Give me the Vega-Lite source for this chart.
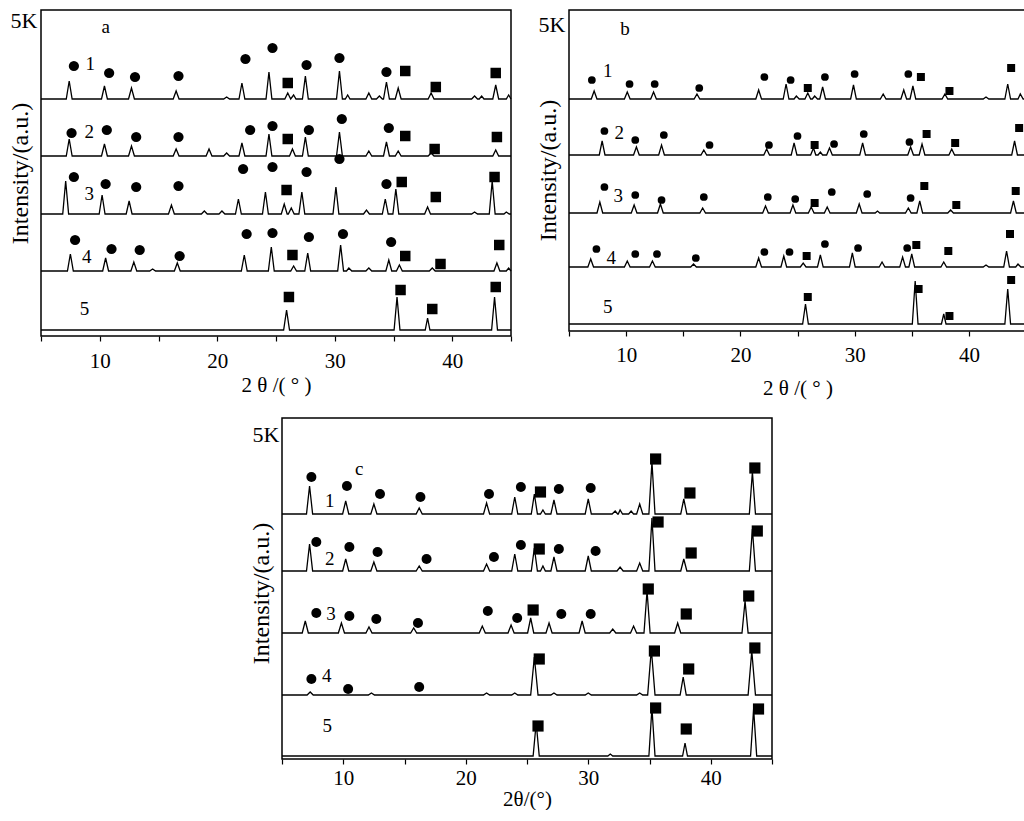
{
"$schema":"https://vega.github.io/schema/vega-lite/v6.json",
"padding":{"left":7,"top":8,"right":0,"bottom":0},
"config":{"view":{"stroke":"black","strokeWidth":1.5},"font":"Liberation Serif","text":{"font":"Liberation Serif"},"axis":{"labelFont":"Liberation Serif","titleFont":"Liberation Serif","labelColor":"black","titleColor":"black","titleFontWeight":"normal","grid":false,"domain":false,"tickColor":"black"}},
"datasets":{
"sa":[{"y":226},{"y":171},{"y":117},{"y":61}],
"sb":[{"y":229},{"y":173},{"y":115},{"y":61}],
"sc":[{"y":241},{"y":184},{"y":122},{"y":61}],
"la":[
{"s":1,"x":5,"y":237},{"s":1,"x":7.15,"y":237},{"s":1,"x":7.4,"y":255},{"s":1,"x":7.65,"y":237},{"s":1,"x":10.15,"y":237},{"s":1,"x":10.4,"y":250},{"s":1,"x":10.65,"y":237},{"s":1,"x":12.45,"y":237},{"s":1,"x":12.7,"y":248},{"s":1,"x":12.95,"y":237},{"s":1,"x":16.25,"y":237},{"s":1,"x":16.5,"y":245},{"s":1,"x":16.75,"y":237},{"s":1,"x":20.55,"y":237},{"s":1,"x":20.8,"y":239},{"s":1,"x":21.05,"y":237},{"s":1,"x":21.85,"y":237},{"s":1,"x":22.1,"y":253},{"s":1,"x":22.35,"y":237},{"s":1,"x":24.15,"y":237},{"s":1,"x":24.4,"y":264},{"s":1,"x":24.65,"y":237},{"s":1,"x":25.75,"y":237},{"s":1,"x":26.0,"y":243},{"s":1,"x":26.25,"y":237},{"s":1,"x":26.5,"y":241},{"s":1,"x":26.7,"y":237},{"s":1,"x":27.25,"y":237},{"s":1,"x":27.5,"y":260},{"s":1,"x":27.75,"y":237},{"s":1,"x":30.15,"y":237},{"s":1,"x":30.4,"y":265},{"s":1,"x":30.65,"y":237},{"s":1,"x":30.9,"y":237},{"s":1,"x":31.1,"y":241},{"s":1,"x":31.3,"y":237},{"s":1,"x":32.65,"y":237},{"s":1,"x":32.9,"y":243},{"s":1,"x":33.15,"y":237},{"s":1,"x":33.55,"y":237},{"s":1,"x":33.8,"y":240},{"s":1,"x":34.05,"y":237},{"s":1,"x":34.15,"y":237},{"s":1,"x":34.4,"y":254},{"s":1,"x":34.65,"y":237},{"s":1,"x":35.15,"y":237},{"s":1,"x":35.4,"y":248},{"s":1,"x":35.65,"y":237},{"s":1,"x":37.95,"y":237},{"s":1,"x":38.2,"y":243},{"s":1,"x":38.45,"y":237},{"s":1,"x":41.65,"y":237},{"s":1,"x":41.9,"y":240},{"s":1,"x":42.15,"y":237},{"s":1,"x":42.3,"y":237},{"s":1,"x":42.5,"y":240},{"s":1,"x":42.7,"y":237},{"s":1,"x":43.45,"y":237},{"s":1,"x":43.7,"y":251},{"s":1,"x":43.95,"y":237},{"s":1,"x":44.6,"y":237},{"s":1,"x":44.8,"y":241},{"s":1,"x":45,"y":237},
{"s":2,"x":5,"y":180},{"s":2,"x":7.15,"y":180},{"s":2,"x":7.4,"y":197},{"s":2,"x":7.65,"y":180},{"s":2,"x":10.15,"y":180},{"s":2,"x":10.4,"y":192},{"s":2,"x":10.65,"y":180},{"s":2,"x":12.45,"y":180},{"s":2,"x":12.7,"y":190},{"s":2,"x":12.95,"y":180},{"s":2,"x":16.25,"y":180},{"s":2,"x":16.5,"y":187},{"s":2,"x":16.75,"y":180},{"s":2,"x":19.05,"y":180},{"s":2,"x":19.3,"y":187},{"s":2,"x":19.55,"y":180},{"s":2,"x":20.55,"y":180},{"s":2,"x":20.8,"y":183},{"s":2,"x":21.05,"y":180},{"s":2,"x":21.85,"y":180},{"s":2,"x":22.1,"y":193},{"s":2,"x":22.35,"y":180},{"s":2,"x":24.15,"y":180},{"s":2,"x":24.4,"y":202},{"s":2,"x":24.65,"y":180},{"s":2,"x":26.15,"y":180},{"s":2,"x":26.4,"y":187},{"s":2,"x":26.65,"y":180},{"s":2,"x":27.25,"y":180},{"s":2,"x":27.5,"y":199},{"s":2,"x":27.75,"y":180},{"s":2,"x":30.15,"y":180},{"s":2,"x":30.4,"y":204},{"s":2,"x":30.65,"y":180},{"s":2,"x":32.65,"y":180},{"s":2,"x":32.9,"y":185},{"s":2,"x":33.15,"y":180},{"s":2,"x":34.15,"y":180},{"s":2,"x":34.4,"y":194},{"s":2,"x":34.65,"y":180},{"s":2,"x":35.15,"y":180},{"s":2,"x":35.4,"y":185},{"s":2,"x":35.65,"y":180},{"s":2,"x":37.95,"y":180},{"s":2,"x":38.2,"y":183},{"s":2,"x":38.45,"y":180},{"s":2,"x":43.45,"y":180},{"s":2,"x":43.7,"y":186},{"s":2,"x":43.95,"y":180},{"s":2,"x":45,"y":180},
{"s":3,"x":5,"y":122},{"s":3,"x":6.85,"y":122},{"s":3,"x":7.1,"y":155},{"s":3,"x":7.35,"y":122},{"s":3,"x":9.95,"y":122},{"s":3,"x":10.2,"y":141},{"s":3,"x":10.45,"y":122},{"s":3,"x":12.25,"y":122},{"s":3,"x":12.5,"y":135},{"s":3,"x":12.75,"y":122},{"s":3,"x":15.85,"y":122},{"s":3,"x":16.1,"y":131},{"s":3,"x":16.35,"y":122},{"s":3,"x":18.65,"y":122},{"s":3,"x":18.9,"y":125},{"s":3,"x":19.15,"y":122},{"s":3,"x":20.15,"y":122},{"s":3,"x":20.4,"y":125},{"s":3,"x":20.65,"y":122},{"s":3,"x":21.55,"y":122},{"s":3,"x":21.8,"y":137},{"s":3,"x":22.05,"y":122},{"s":3,"x":23.85,"y":122},{"s":3,"x":24.1,"y":144},{"s":3,"x":24.35,"y":122},{"s":3,"x":25.45,"y":122},{"s":3,"x":25.7,"y":132},{"s":3,"x":25.95,"y":122},{"s":3,"x":26.05,"y":122},{"s":3,"x":26.3,"y":128},{"s":3,"x":26.55,"y":122},{"s":3,"x":26.95,"y":122},{"s":3,"x":27.2,"y":144},{"s":3,"x":27.45,"y":122},{"s":3,"x":29.85,"y":122},{"s":3,"x":30.1,"y":149},{"s":3,"x":30.35,"y":122},{"s":3,"x":32.45,"y":122},{"s":3,"x":32.7,"y":126},{"s":3,"x":32.95,"y":122},{"s":3,"x":34.05,"y":122},{"s":3,"x":34.3,"y":137},{"s":3,"x":34.55,"y":122},{"s":3,"x":34.95,"y":122},{"s":3,"x":35.2,"y":147},{"s":3,"x":35.45,"y":122},{"s":3,"x":37.65,"y":122},{"s":3,"x":37.9,"y":129},{"s":3,"x":38.15,"y":122},{"s":3,"x":41.65,"y":122},{"s":3,"x":41.9,"y":124},{"s":3,"x":42.15,"y":122},{"s":3,"x":43.15,"y":122},{"s":3,"x":43.4,"y":155},{"s":3,"x":43.65,"y":122},{"s":3,"x":44.4,"y":122},{"s":3,"x":44.6,"y":124},{"s":3,"x":44.85,"y":122},{"s":3,"x":45,"y":122},
{"s":4,"x":5,"y":65},{"s":4,"x":7.25,"y":65},{"s":4,"x":7.5,"y":82},{"s":4,"x":7.75,"y":65},{"s":4,"x":10.25,"y":65},{"s":4,"x":10.5,"y":78},{"s":4,"x":10.75,"y":65},{"s":4,"x":12.65,"y":65},{"s":4,"x":12.9,"y":74},{"s":4,"x":13.15,"y":65},{"s":4,"x":14.25,"y":65},{"s":4,"x":14.5,"y":67},{"s":4,"x":14.75,"y":65},{"s":4,"x":16.35,"y":65},{"s":4,"x":16.6,"y":73},{"s":4,"x":16.85,"y":65},{"s":4,"x":22.05,"y":65},{"s":4,"x":22.3,"y":81},{"s":4,"x":22.55,"y":65},{"s":4,"x":24.35,"y":65},{"s":4,"x":24.6,"y":89},{"s":4,"x":24.85,"y":65},{"s":4,"x":26.25,"y":65},{"s":4,"x":26.5,"y":70},{"s":4,"x":26.75,"y":65},{"s":4,"x":27.45,"y":65},{"s":4,"x":27.7,"y":83},{"s":4,"x":27.95,"y":65},{"s":4,"x":30.25,"y":65},{"s":4,"x":30.5,"y":91},{"s":4,"x":30.75,"y":65},{"s":4,"x":31.0,"y":65},{"s":4,"x":31.2,"y":68},{"s":4,"x":31.45,"y":65},{"s":4,"x":32.65,"y":65},{"s":4,"x":32.9,"y":68},{"s":4,"x":33.15,"y":65},{"s":4,"x":34.35,"y":65},{"s":4,"x":34.6,"y":76},{"s":4,"x":34.85,"y":65},{"s":4,"x":35.25,"y":65},{"s":4,"x":35.5,"y":71},{"s":4,"x":35.75,"y":65},{"s":4,"x":38.05,"y":65},{"s":4,"x":38.3,"y":68},{"s":4,"x":38.55,"y":65},{"s":4,"x":43.55,"y":65},{"s":4,"x":43.8,"y":73},{"s":4,"x":44.05,"y":65},{"s":4,"x":44.6,"y":65},{"s":4,"x":44.8,"y":68},{"s":4,"x":45,"y":65},
{"s":5,"x":5,"y":6},{"s":5,"x":25.65,"y":6},{"s":5,"x":25.9,"y":26},{"s":5,"x":26.15,"y":6},{"s":5,"x":35.05,"y":6},{"s":5,"x":35.3,"y":39},{"s":5,"x":35.55,"y":6},{"s":5,"x":37.7,"y":6},{"s":5,"x":37.9,"y":18},{"s":5,"x":38.1,"y":6},{"s":5,"x":43.35,"y":6},{"s":5,"x":43.6,"y":39},{"s":5,"x":43.85,"y":6},{"s":5,"x":45,"y":6}
],
"ma":[
{"m":"c","x":7.8,"y":270},{"m":"c","x":10.8,"y":263},{"m":"c","x":13.0,"y":259},{"m":"c","x":16.7,"y":260},{"m":"c","x":22.4,"y":277},{"m":"c","x":24.7,"y":288},{"m":"c","x":27.6,"y":271},{"m":"c","x":30.4,"y":278},{"m":"c","x":34.4,"y":264},{"m":"s","x":26.0,"y":253},{"m":"s","x":36.0,"y":265},{"m":"s","x":38.6,"y":249},{"m":"s","x":43.7,"y":263},
{"m":"c","x":7.6,"y":203},{"m":"c","x":10.6,"y":206},{"m":"c","x":13.1,"y":199},{"m":"c","x":16.7,"y":199},{"m":"c","x":22.8,"y":206},{"m":"c","x":24.7,"y":210},{"m":"c","x":27.8,"y":206},{"m":"c","x":30.6,"y":217},{"m":"c","x":34.6,"y":208},{"m":"s","x":26.0,"y":197},{"m":"s","x":36.0,"y":200},{"m":"s","x":38.5,"y":187},{"m":"s","x":43.8,"y":199},
{"m":"c","x":7.8,"y":159},{"m":"c","x":10.5,"y":152},{"m":"c","x":13.1,"y":149},{"m":"c","x":16.7,"y":150},{"m":"c","x":22.2,"y":167},{"m":"c","x":24.7,"y":169},{"m":"c","x":27.6,"y":164},{"m":"c","x":30.4,"y":177},{"m":"c","x":34.4,"y":152},{"m":"s","x":25.9,"y":146},{"m":"s","x":35.7,"y":154},{"m":"s","x":38.6,"y":139},{"m":"s","x":43.6,"y":159},
{"m":"c","x":7.9,"y":96},{"m":"c","x":11.0,"y":87},{"m":"c","x":13.4,"y":86},{"m":"c","x":16.8,"y":80},{"m":"c","x":22.5,"y":102},{"m":"c","x":24.7,"y":103},{"m":"c","x":27.8,"y":99},{"m":"c","x":30.7,"y":102},{"m":"c","x":34.8,"y":94},{"m":"s","x":26.4,"y":81},{"m":"s","x":36.0,"y":80},{"m":"s","x":39.0,"y":72},{"m":"s","x":44.0,"y":91},
{"m":"s","x":26.1,"y":39},{"m":"s","x":35.6,"y":46},{"m":"s","x":38.3,"y":27},{"m":"s","x":43.7,"y":49}
],
"ta":[{"t":"1","x":9.2,"y":272},{"t":"2","x":9.1,"y":204},{"t":"3","x":9.1,"y":142},{"t":"4","x":8.9,"y":79},{"t":"5","x":8.7,"y":27},{"t":"a","x":10.5,"y":309}],
"lb":[
{"s":1,"x":5,"y":232},{"s":1,"x":6.95,"y":232},{"s":1,"x":7.2,"y":240},{"s":1,"x":7.45,"y":232},{"s":1,"x":9.85,"y":232},{"s":1,"x":10.1,"y":239},{"s":1,"x":10.35,"y":232},{"s":1,"x":12.15,"y":232},{"s":1,"x":12.4,"y":239},{"s":1,"x":12.65,"y":232},{"s":1,"x":15.95,"y":232},{"s":1,"x":16.2,"y":237},{"s":1,"x":16.45,"y":232},{"s":1,"x":21.35,"y":232},{"s":1,"x":21.6,"y":241},{"s":1,"x":21.85,"y":232},{"s":1,"x":23.75,"y":232},{"s":1,"x":24.0,"y":247},{"s":1,"x":24.25,"y":232},{"s":1,"x":24.7,"y":232},{"s":1,"x":24.9,"y":235},{"s":1,"x":25.15,"y":232},{"s":1,"x":25.65,"y":232},{"s":1,"x":25.9,"y":238},{"s":1,"x":26.15,"y":232},{"s":1,"x":26.3,"y":232},{"s":1,"x":26.5,"y":235},{"s":1,"x":26.75,"y":232},{"s":1,"x":26.95,"y":232},{"s":1,"x":27.2,"y":244},{"s":1,"x":27.45,"y":232},{"s":1,"x":29.65,"y":232},{"s":1,"x":29.9,"y":246},{"s":1,"x":30.15,"y":232},{"s":1,"x":32.25,"y":232},{"s":1,"x":32.5,"y":237},{"s":1,"x":32.75,"y":232},{"s":1,"x":34.05,"y":232},{"s":1,"x":34.3,"y":241},{"s":1,"x":34.55,"y":232},{"s":1,"x":34.85,"y":232},{"s":1,"x":35.1,"y":245},{"s":1,"x":35.35,"y":232},{"s":1,"x":37.65,"y":232},{"s":1,"x":37.9,"y":237},{"s":1,"x":38.15,"y":232},{"s":1,"x":41.25,"y":232},{"s":1,"x":41.5,"y":234},{"s":1,"x":41.75,"y":232},{"s":1,"x":43.15,"y":232},{"s":1,"x":43.4,"y":247},{"s":1,"x":43.65,"y":232},{"s":1,"x":44.3,"y":232},{"s":1,"x":44.5,"y":237},{"s":1,"x":44.75,"y":232},{"s":1,"x":45,"y":232},
{"s":2,"x":5,"y":176},{"s":2,"x":7.65,"y":176},{"s":2,"x":7.9,"y":190},{"s":2,"x":8.15,"y":176},{"s":2,"x":10.65,"y":176},{"s":2,"x":10.9,"y":184},{"s":2,"x":11.15,"y":176},{"s":2,"x":12.85,"y":176},{"s":2,"x":13.1,"y":186},{"s":2,"x":13.35,"y":176},{"s":2,"x":16.55,"y":176},{"s":2,"x":16.8,"y":181},{"s":2,"x":17.05,"y":176},{"s":2,"x":22.05,"y":176},{"s":2,"x":22.3,"y":182},{"s":2,"x":22.55,"y":176},{"s":2,"x":24.45,"y":176},{"s":2,"x":24.7,"y":188},{"s":2,"x":24.95,"y":176},{"s":2,"x":26.15,"y":176},{"s":2,"x":26.4,"y":183},{"s":2,"x":26.6,"y":176},{"s":2,"x":26.8,"y":176},{"s":2,"x":27.0,"y":179},{"s":2,"x":27.2,"y":176},{"s":2,"x":27.55,"y":176},{"s":2,"x":27.8,"y":183},{"s":2,"x":28.05,"y":176},{"s":2,"x":30.45,"y":176},{"s":2,"x":30.7,"y":188},{"s":2,"x":30.95,"y":176},{"s":2,"x":34.65,"y":176},{"s":2,"x":34.9,"y":184},{"s":2,"x":35.15,"y":176},{"s":2,"x":35.65,"y":176},{"s":2,"x":35.9,"y":187},{"s":2,"x":36.15,"y":176},{"s":2,"x":38.25,"y":176},{"s":2,"x":38.5,"y":182},{"s":2,"x":38.75,"y":176},{"s":2,"x":43.75,"y":176},{"s":2,"x":44.0,"y":190},{"s":2,"x":44.25,"y":176},{"s":2,"x":45,"y":176},
{"s":3,"x":5,"y":118},{"s":3,"x":7.45,"y":118},{"s":3,"x":7.7,"y":129},{"s":3,"x":7.95,"y":118},{"s":3,"x":10.45,"y":118},{"s":3,"x":10.7,"y":126},{"s":3,"x":10.95,"y":118},{"s":3,"x":12.75,"y":118},{"s":3,"x":13.0,"y":127},{"s":3,"x":13.25,"y":118},{"s":3,"x":16.45,"y":118},{"s":3,"x":16.7,"y":123},{"s":3,"x":16.95,"y":118},{"s":3,"x":21.95,"y":118},{"s":3,"x":22.2,"y":125},{"s":3,"x":22.45,"y":118},{"s":3,"x":24.35,"y":118},{"s":3,"x":24.6,"y":126},{"s":3,"x":24.85,"y":118},{"s":3,"x":25.95,"y":118},{"s":3,"x":26.2,"y":124},{"s":3,"x":26.45,"y":118},{"s":3,"x":27.35,"y":118},{"s":3,"x":27.6,"y":124},{"s":3,"x":27.85,"y":118},{"s":3,"x":30.15,"y":118},{"s":3,"x":30.4,"y":127},{"s":3,"x":30.65,"y":118},{"s":3,"x":31.8,"y":118},{"s":3,"x":32.0,"y":120},{"s":3,"x":32.2,"y":118},{"s":3,"x":34.45,"y":118},{"s":3,"x":34.7,"y":123},{"s":3,"x":34.95,"y":118},{"s":3,"x":35.45,"y":118},{"s":3,"x":35.7,"y":130},{"s":3,"x":35.95,"y":118},{"s":3,"x":38.15,"y":118},{"s":3,"x":38.4,"y":121},{"s":3,"x":38.65,"y":118},{"s":3,"x":43.65,"y":118},{"s":3,"x":43.9,"y":130},{"s":3,"x":44.15,"y":118},{"s":3,"x":45,"y":118},
{"s":4,"x":5,"y":64},{"s":4,"x":6.65,"y":64},{"s":4,"x":6.9,"y":72},{"s":4,"x":7.15,"y":64},{"s":4,"x":9.85,"y":64},{"s":4,"x":10.1,"y":70},{"s":4,"x":10.35,"y":64},{"s":4,"x":12.05,"y":64},{"s":4,"x":12.3,"y":70},{"s":4,"x":12.55,"y":64},{"s":4,"x":15.65,"y":64},{"s":4,"x":15.9,"y":67},{"s":4,"x":16.15,"y":64},{"s":4,"x":21.35,"y":64},{"s":4,"x":21.6,"y":73},{"s":4,"x":21.85,"y":64},{"s":4,"x":23.55,"y":64},{"s":4,"x":23.8,"y":75},{"s":4,"x":24.05,"y":64},{"s":4,"x":25.25,"y":64},{"s":4,"x":25.5,"y":68},{"s":4,"x":25.75,"y":64},{"s":4,"x":26.75,"y":64},{"s":4,"x":27.0,"y":76},{"s":4,"x":27.25,"y":64},{"s":4,"x":29.55,"y":64},{"s":4,"x":29.8,"y":78},{"s":4,"x":30.05,"y":64},{"s":4,"x":32.15,"y":64},{"s":4,"x":32.4,"y":69},{"s":4,"x":32.65,"y":64},{"s":4,"x":33.95,"y":64},{"s":4,"x":34.2,"y":74},{"s":4,"x":34.45,"y":64},{"s":4,"x":34.75,"y":64},{"s":4,"x":35.0,"y":77},{"s":4,"x":35.25,"y":64},{"s":4,"x":37.55,"y":64},{"s":4,"x":37.8,"y":69},{"s":4,"x":38.05,"y":64},{"s":4,"x":41.25,"y":64},{"s":4,"x":41.5,"y":66},{"s":4,"x":41.75,"y":64},{"s":4,"x":43.05,"y":64},{"s":4,"x":43.3,"y":80},{"s":4,"x":43.55,"y":64},{"s":4,"x":44.1,"y":64},{"s":4,"x":44.3,"y":67},{"s":4,"x":44.55,"y":64},{"s":4,"x":45,"y":64},
{"s":5,"x":5,"y":7},{"s":5,"x":25.45,"y":7},{"s":5,"x":25.7,"y":27},{"s":5,"x":25.95,"y":7},{"s":5,"x":35.05,"y":7},{"s":5,"x":35.3,"y":50},{"s":5,"x":35.55,"y":7},{"s":5,"x":37.6,"y":7},{"s":5,"x":37.8,"y":17},{"s":5,"x":38.0,"y":7},{"s":5,"x":43.15,"y":7},{"s":5,"x":43.4,"y":42},{"s":5,"x":43.65,"y":7},{"s":5,"x":45,"y":7}
],
"mb":[
{"m":"c","x":7.0,"y":251},{"m":"c","x":10.3,"y":247},{"m":"c","x":12.5,"y":247},{"m":"c","x":16.4,"y":243},{"m":"c","x":22.1,"y":254},{"m":"c","x":24.4,"y":251},{"m":"c","x":27.4,"y":254},{"m":"c","x":30.0,"y":257},{"m":"c","x":34.7,"y":257},{"m":"s","x":25.9,"y":243},{"m":"s","x":35.8,"y":254},{"m":"s","x":38.3,"y":240},{"m":"s","x":43.7,"y":263},
{"m":"c","x":8.1,"y":200},{"m":"c","x":10.8,"y":191},{"m":"c","x":13.3,"y":196},{"m":"c","x":17.3,"y":186},{"m":"c","x":22.5,"y":186},{"m":"c","x":25.0,"y":195},{"m":"c","x":28.2,"y":187},{"m":"c","x":30.8,"y":197},{"m":"c","x":34.8,"y":189},{"m":"s","x":26.5,"y":186},{"m":"s","x":36.3,"y":197},{"m":"s","x":38.8,"y":188},{"m":"s","x":44.4,"y":203},
{"m":"c","x":8.1,"y":144},{"m":"c","x":10.8,"y":136},{"m":"c","x":13.1,"y":131},{"m":"c","x":16.8,"y":134},{"m":"c","x":22.4,"y":134},{"m":"c","x":24.8,"y":132},{"m":"c","x":28.0,"y":139},{"m":"c","x":31.1,"y":137},{"m":"c","x":34.9,"y":133},{"m":"s","x":26.5,"y":128},{"m":"s","x":36.1,"y":145},{"m":"s","x":38.9,"y":126},{"m":"s","x":44.1,"y":140},
{"m":"c","x":7.4,"y":82},{"m":"c","x":10.8,"y":77},{"m":"c","x":12.7,"y":77},{"m":"c","x":16.1,"y":73},{"m":"c","x":22.1,"y":79},{"m":"c","x":24.3,"y":79},{"m":"c","x":27.4,"y":87},{"m":"c","x":30.3,"y":83},{"m":"c","x":34.6,"y":83},{"m":"s","x":25.8,"y":75},{"m":"s","x":35.4,"y":86},{"m":"s","x":38.2,"y":80},{"m":"s","x":43.6,"y":97},
{"m":"s","x":25.9,"y":34},{"m":"s","x":35.6,"y":42},{"m":"s","x":38.3,"y":15},{"m":"s","x":43.7,"y":51}
],
"tb":[{"t":"1","x":8.4,"y":260},{"t":"2","x":9.4,"y":198},{"t":"3","x":9.3,"y":135},{"t":"4","x":8.7,"y":73},{"t":"5","x":8.4,"y":24},{"t":"b","x":9.9,"y":302}],
"lc":[
{"s":1,"x":5,"y":245},{"s":1,"x":7.0,"y":245},{"s":1,"x":7.25,"y":273},{"s":1,"x":7.5,"y":245},{"s":1,"x":9.95,"y":245},{"s":1,"x":10.2,"y":258},{"s":1,"x":10.45,"y":245},{"s":1,"x":12.25,"y":245},{"s":1,"x":12.5,"y":255},{"s":1,"x":12.75,"y":245},{"s":1,"x":15.95,"y":245},{"s":1,"x":16.2,"y":251},{"s":1,"x":16.45,"y":245},{"s":1,"x":21.45,"y":245},{"s":1,"x":21.7,"y":256},{"s":1,"x":21.95,"y":245},{"s":1,"x":23.75,"y":245},{"s":1,"x":24.0,"y":262},{"s":1,"x":24.25,"y":245},{"s":1,"x":25.35,"y":245},{"s":1,"x":25.6,"y":265},{"s":1,"x":25.85,"y":245},{"s":1,"x":26.1,"y":245},{"s":1,"x":26.3,"y":249},{"s":1,"x":26.5,"y":245},{"s":1,"x":26.95,"y":245},{"s":1,"x":27.2,"y":259},{"s":1,"x":27.45,"y":245},{"s":1,"x":29.75,"y":245},{"s":1,"x":30.0,"y":260},{"s":1,"x":30.25,"y":245},{"s":1,"x":31.95,"y":245},{"s":1,"x":32.2,"y":248},{"s":1,"x":32.4,"y":245},{"s":1,"x":32.45,"y":245},{"s":1,"x":32.6,"y":249},{"s":1,"x":32.8,"y":245},{"s":1,"x":33.3,"y":245},{"s":1,"x":33.5,"y":248},{"s":1,"x":33.7,"y":245},{"s":1,"x":33.95,"y":245},{"s":1,"x":34.2,"y":255},{"s":1,"x":34.45,"y":245},{"s":1,"x":34.95,"y":245},{"s":1,"x":35.2,"y":297},{"s":1,"x":35.45,"y":245},{"s":1,"x":37.55,"y":245},{"s":1,"x":37.8,"y":260},{"s":1,"x":38.05,"y":245},{"s":1,"x":43.15,"y":245},{"s":1,"x":43.4,"y":287},{"s":1,"x":43.65,"y":245},{"s":1,"x":45,"y":245},
{"s":2,"x":5,"y":188},{"s":2,"x":7.0,"y":188},{"s":2,"x":7.25,"y":215},{"s":2,"x":7.5,"y":188},{"s":2,"x":9.95,"y":188},{"s":2,"x":10.2,"y":200},{"s":2,"x":10.45,"y":188},{"s":2,"x":12.25,"y":188},{"s":2,"x":12.5,"y":197},{"s":2,"x":12.75,"y":188},{"s":2,"x":15.95,"y":188},{"s":2,"x":16.2,"y":193},{"s":2,"x":16.45,"y":188},{"s":2,"x":21.45,"y":188},{"s":2,"x":21.7,"y":195},{"s":2,"x":21.95,"y":188},{"s":2,"x":23.75,"y":188},{"s":2,"x":24.0,"y":205},{"s":2,"x":24.25,"y":188},{"s":2,"x":25.35,"y":188},{"s":2,"x":25.6,"y":211},{"s":2,"x":25.85,"y":188},{"s":2,"x":26.1,"y":188},{"s":2,"x":26.3,"y":193},{"s":2,"x":26.5,"y":188},{"s":2,"x":26.95,"y":188},{"s":2,"x":27.2,"y":202},{"s":2,"x":27.45,"y":188},{"s":2,"x":29.75,"y":188},{"s":2,"x":30.0,"y":203},{"s":2,"x":30.25,"y":188},{"s":2,"x":32.35,"y":188},{"s":2,"x":32.6,"y":192},{"s":2,"x":32.85,"y":188},{"s":2,"x":33.95,"y":188},{"s":2,"x":34.2,"y":196},{"s":2,"x":34.45,"y":188},{"s":2,"x":34.95,"y":188},{"s":2,"x":35.2,"y":241},{"s":2,"x":35.45,"y":188},{"s":2,"x":37.55,"y":188},{"s":2,"x":37.8,"y":200},{"s":2,"x":38.05,"y":188},{"s":2,"x":43.15,"y":188},{"s":2,"x":43.4,"y":230},{"s":2,"x":43.65,"y":188},{"s":2,"x":45,"y":188},
{"s":3,"x":5,"y":126},{"s":3,"x":6.65,"y":126},{"s":3,"x":6.9,"y":138},{"s":3,"x":7.15,"y":126},{"s":3,"x":9.6,"y":126},{"s":3,"x":9.85,"y":136},{"s":3,"x":10.1,"y":126},{"s":3,"x":11.85,"y":126},{"s":3,"x":12.1,"y":132},{"s":3,"x":12.35,"y":126},{"s":3,"x":15.5,"y":126},{"s":3,"x":15.75,"y":131},{"s":3,"x":16.0,"y":126},{"s":3,"x":21.1,"y":126},{"s":3,"x":21.35,"y":133},{"s":3,"x":21.6,"y":126},{"s":3,"x":23.45,"y":126},{"s":3,"x":23.7,"y":134},{"s":3,"x":23.95,"y":126},{"s":3,"x":25.05,"y":126},{"s":3,"x":25.3,"y":141},{"s":3,"x":25.55,"y":126},{"s":3,"x":26.55,"y":126},{"s":3,"x":26.8,"y":136},{"s":3,"x":27.05,"y":126},{"s":3,"x":29.25,"y":126},{"s":3,"x":29.5,"y":138},{"s":3,"x":29.75,"y":126},{"s":3,"x":31.75,"y":126},{"s":3,"x":32.0,"y":130},{"s":3,"x":32.25,"y":126},{"s":3,"x":33.45,"y":126},{"s":3,"x":33.7,"y":133},{"s":3,"x":33.95,"y":126},{"s":3,"x":34.55,"y":126},{"s":3,"x":34.8,"y":168},{"s":3,"x":35.05,"y":126},{"s":3,"x":37.05,"y":126},{"s":3,"x":37.3,"y":136},{"s":3,"x":37.55,"y":126},{"s":3,"x":42.55,"y":126},{"s":3,"x":42.8,"y":158},{"s":3,"x":43.05,"y":126},{"s":3,"x":45,"y":126},
{"s":4,"x":5,"y":64},{"s":4,"x":7.05,"y":64},{"s":4,"x":7.3,"y":67},{"s":4,"x":7.55,"y":64},{"s":4,"x":12.05,"y":64},{"s":4,"x":12.3,"y":66},{"s":4,"x":12.55,"y":64},{"s":4,"x":21.45,"y":64},{"s":4,"x":21.7,"y":66},{"s":4,"x":21.95,"y":64},{"s":4,"x":23.75,"y":64},{"s":4,"x":24.0,"y":66},{"s":4,"x":24.25,"y":64},{"s":4,"x":25.3,"y":64},{"s":4,"x":25.6,"y":102},{"s":4,"x":25.9,"y":64},{"s":4,"x":26.95,"y":64},{"s":4,"x":27.2,"y":66},{"s":4,"x":27.45,"y":64},{"s":4,"x":29.75,"y":64},{"s":4,"x":30.0,"y":66},{"s":4,"x":30.25,"y":64},{"s":4,"x":33.95,"y":64},{"s":4,"x":34.2,"y":66},{"s":4,"x":34.45,"y":64},{"s":4,"x":34.85,"y":64},{"s":4,"x":35.15,"y":110},{"s":4,"x":35.45,"y":64},{"s":4,"x":37.5,"y":64},{"s":4,"x":37.75,"y":82},{"s":4,"x":38.0,"y":64},{"s":4,"x":43.05,"y":64},{"s":4,"x":43.35,"y":108},{"s":4,"x":43.65,"y":64},{"s":4,"x":45,"y":64},
{"s":5,"x":5,"y":3},{"s":5,"x":25.5,"y":3},{"s":5,"x":25.75,"y":36},{"s":5,"x":26.0,"y":3},{"s":5,"x":31.6,"y":3},{"s":5,"x":31.8,"y":5},{"s":5,"x":32.0,"y":3},{"s":5,"x":34.95,"y":3},{"s":5,"x":35.2,"y":51},{"s":5,"x":35.45,"y":3},{"s":5,"x":37.7,"y":3},{"s":5,"x":37.9,"y":16},{"s":5,"x":38.1,"y":3},{"s":5,"x":43.25,"y":3},{"s":5,"x":43.5,"y":50},{"s":5,"x":43.75,"y":3},{"s":5,"x":45,"y":3}
],
"mc":[
{"m":"c","x":7.4,"y":282},{"m":"c","x":10.3,"y":273},{"m":"c","x":13.0,"y":265},{"m":"c","x":16.3,"y":262},{"m":"c","x":21.9,"y":265},{"m":"c","x":24.5,"y":272},{"m":"c","x":27.6,"y":270},{"m":"c","x":30.2,"y":271},{"m":"s","x":26.1,"y":267},{"m":"s","x":35.5,"y":300},{"m":"s","x":38.3,"y":266},{"m":"s","x":43.6,"y":291},
{"m":"c","x":7.8,"y":217},{"m":"c","x":10.5,"y":212},{"m":"c","x":12.8,"y":207},{"m":"c","x":16.8,"y":200},{"m":"c","x":22.3,"y":202},{"m":"c","x":24.5,"y":214},{"m":"c","x":27.6,"y":210},{"m":"c","x":30.6,"y":208},{"m":"s","x":26.0,"y":210},{"m":"s","x":35.7,"y":237},{"m":"s","x":38.4,"y":206},{"m":"s","x":43.8,"y":228},
{"m":"c","x":7.8,"y":146},{"m":"c","x":10.5,"y":143},{"m":"c","x":12.7,"y":140},{"m":"c","x":16.1,"y":136},{"m":"c","x":21.8,"y":148},{"m":"c","x":24.2,"y":141},{"m":"c","x":27.8,"y":145},{"m":"c","x":30.2,"y":145},{"m":"s","x":25.5,"y":149},{"m":"s","x":34.9,"y":170},{"m":"s","x":38.0,"y":145},{"m":"s","x":43.1,"y":163},
{"m":"c","x":7.4,"y":80},{"m":"c","x":10.4,"y":70},{"m":"c","x":16.2,"y":72},{"m":"s","x":26.0,"y":100},{"m":"s","x":35.4,"y":108},{"m":"s","x":38.2,"y":90},{"m":"s","x":43.6,"y":111},
{"m":"s","x":25.9,"y":33},{"m":"s","x":35.5,"y":51},{"m":"s","x":38.0,"y":30},{"m":"s","x":43.9,"y":50}
],
"tc":[{"t":"1","x":8.9,"y":258},{"t":"2","x":8.9,"y":200},{"t":"3","x":9.0,"y":145},{"t":"4","x":8.65,"y":83},{"t":"5","x":8.7,"y":33},{"t":"c","x":11.3,"y":290}]
},
"vconcat":[
{"hconcat":[
{"width":470,"height":326,
"encoding":{
"x":{"field":"x","type":"quantitative","scale":{"domain":[5,45],"nice":false,"zero":false},"axis":{"values":[5,10,15,20,25,30,35,40,45],"labelExpr":"datum.value % 10 === 0 ? datum.label : ''","tickSize":5,"tickWidth":1.2,"labelFont":"Liberation Serif","titleFont":"Liberation Serif","labelFontSize":21,"labelPadding":9,"title":"2 θ /( ° )","titleFontSize":21,"titlePadding":3}},
"y":{"field":"y","type":"quantitative","scale":{"domain":[0,326],"nice":false,"zero":false},"axis":{"values":[316],"labelExpr":"'5K'","ticks":false,"labelFont":"Liberation Serif","titleFont":"Liberation Serif","labelFontSize":22,"labelPadding":4,"title":"Intensity/(a.u.)","titleFontSize":24,"titleX":-14,"titleY":163,"titleAngle":270,"titleAlign":"center","titleBaseline":"alphabetic"}}
},
"layer":[
{"data":{"name":"sa"},"mark":{"type":"rule","color":"black","strokeWidth":1.2},"encoding":{"x":{"datum":5},"x2":{"datum":45}}},
{"data":{"name":"la"},"mark":{"type":"line","color":"black","strokeWidth":1.3},"encoding":{"detail":{"field":"s"}}},
{"data":{"name":"ma"},"mark":{"type":"point","filled":true,"opacity":1,"color":"black"},"encoding":{"shape":{"field":"m","type":"nominal","scale":{"domain":["c","s"],"range":["circle","square"]},"legend":null},"size":{"field":"m","type":"nominal","scale":{"domain":["c","s"],"range":[105,110]},"legend":null}}},
{"data":{"name":"ta"},"mark":{"type":"text","font":"Liberation Serif","fontSize":19,"color":"black"},"encoding":{"text":{"field":"t"}}}
]},
{"width":457,"height":321,
"encoding":{
"x":{"field":"x","type":"quantitative","scale":{"domain":[5,45],"nice":false,"zero":false},"axis":{"values":[5,10,15,20,25,30,35,40,45],"labelExpr":"datum.value % 10 === 0 ? datum.label : ''","tickSize":5,"tickWidth":1.2,"labelFont":"Liberation Serif","titleFont":"Liberation Serif","labelFontSize":21,"labelPadding":8,"title":"2 θ /( ° )","titleFontSize":21,"titlePadding":12}},
"y":{"field":"y","type":"quantitative","scale":{"domain":[0,321],"nice":false,"zero":false},"axis":{"values":[307],"labelExpr":"'5K'","ticks":false,"labelFont":"Liberation Serif","titleFont":"Liberation Serif","labelFontSize":22,"labelPadding":4,"title":"Intensity/(a.u.)","titleFontSize":24,"titleX":-14,"titleY":160,"titleAngle":270,"titleAlign":"center","titleBaseline":"alphabetic"}}
},
"layer":[
{"data":{"name":"sb"},"mark":{"type":"rule","color":"black","strokeWidth":1.2},"encoding":{"x":{"datum":5},"x2":{"datum":45}}},
{"data":{"name":"lb"},"mark":{"type":"line","color":"black","strokeWidth":1.3},"encoding":{"detail":{"field":"s"}}},
{"data":{"name":"mb"},"mark":{"type":"point","filled":true,"opacity":1,"color":"black"},"encoding":{"shape":{"field":"m","type":"nominal","scale":{"domain":["c","s"],"range":["circle","square"]},"legend":null},"size":{"field":"m","type":"nominal","scale":{"domain":["c","s"],"range":[60,64]},"legend":null}}},
{"data":{"name":"tb"},"mark":{"type":"text","font":"Liberation Serif","fontSize":19,"color":"black"},"encoding":{"text":{"field":"t"}}}
]}
],"spacing":20,"resolve":{"scale":{"x":"independent","y":"independent","shape":"independent","size":"independent"}}},
{"hconcat":[
{"width":187,"height":10,"view":{"stroke":null},"data":{"values":[{"t":""}]},"mark":{"type":"text"},"encoding":{"text":{"field":"t"}}},
{"width":490,"height":341,
"encoding":{
"x":{"field":"x","type":"quantitative","scale":{"domain":[5,45],"nice":false,"zero":false},"axis":{"values":[5,10,15,20,25,30,35,40,45],"labelExpr":"datum.value % 10 === 0 ? datum.label : ''","tickSize":5,"tickWidth":1.2,"labelFont":"Liberation Serif","titleFont":"Liberation Serif","labelFontSize":21,"labelPadding":3,"title":"2θ/(°)","titleFontSize":21,"titlePadding":0}},
"y":{"field":"y","type":"quantitative","scale":{"domain":[0,341],"nice":false,"zero":false},"axis":{"values":[325],"labelExpr":"'5K'","ticks":false,"labelFont":"Liberation Serif","titleFont":"Liberation Serif","labelFontSize":22,"labelPadding":3,"title":"Intensity/(a.u.)","titleFontSize":24,"titleX":-14,"titleY":175,"titleAngle":270,"titleAlign":"center","titleBaseline":"alphabetic"}}
},
"layer":[
{"data":{"name":"sc"},"mark":{"type":"rule","color":"black","strokeWidth":1.2},"encoding":{"x":{"datum":5},"x2":{"datum":45}}},
{"data":{"name":"lc"},"mark":{"type":"line","color":"black","strokeWidth":1.3},"encoding":{"detail":{"field":"s"}}},
{"data":{"name":"mc"},"mark":{"type":"point","filled":true,"opacity":1,"color":"black"},"encoding":{"shape":{"field":"m","type":"nominal","scale":{"domain":["c","s"],"range":["circle","square"]},"legend":null},"size":{"field":"m","type":"nominal","scale":{"domain":["c","s"],"range":[100,125]},"legend":null}}},
{"data":{"name":"tc"},"mark":{"type":"text","font":"Liberation Serif","fontSize":19,"color":"black"},"encoding":{"text":{"field":"t"}}}
]}
],"spacing":20,"resolve":{"scale":{"x":"independent","y":"independent","shape":"independent","size":"independent"}}}
],
"spacing":18,
"resolve":{"scale":{"x":"independent","y":"independent","shape":"independent","size":"independent"}}
}
